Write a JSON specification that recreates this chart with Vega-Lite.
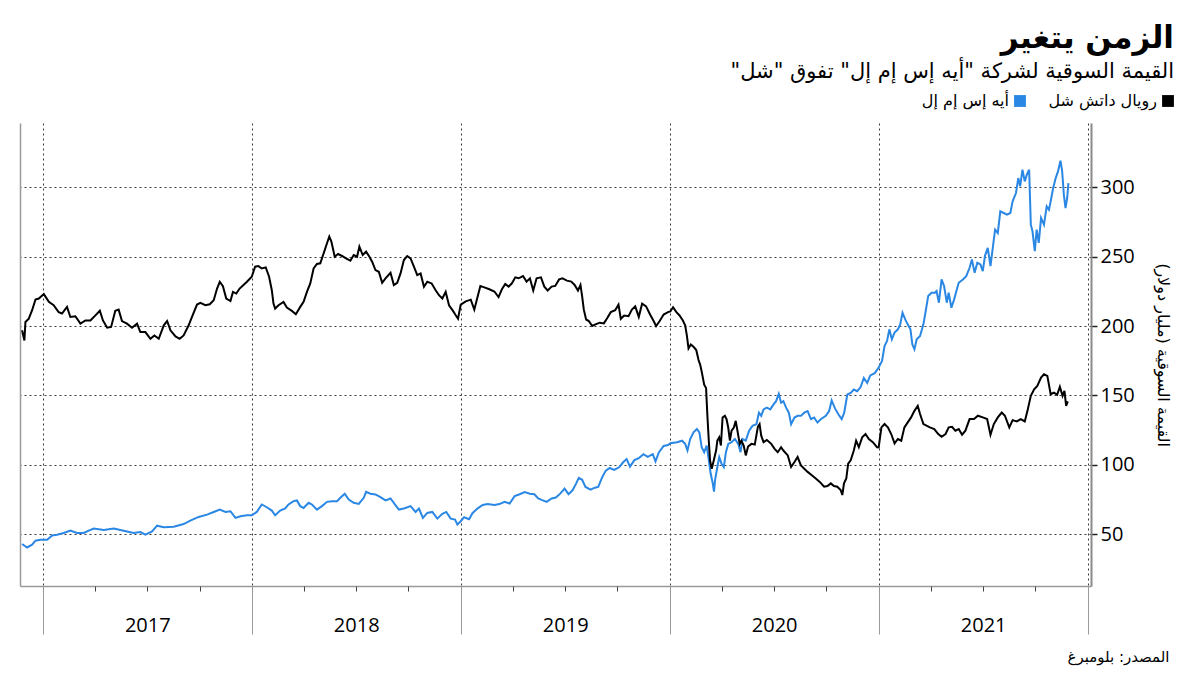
{
  "$schema": "https://vega.github.io/schema/vega-lite/v6.json",
  "width": 1071,
  "height": 463,
  "padding": {"left": 18, "top": 23, "right": 20, "bottom": 4},
  "background": "white",
  "config": {"view": {"stroke": null}, "font": "Open Sans"},
  "title": {
    "text": "\u200fالزمن يتغير\u200f",
    "subtitle": "\u200fالقيمة السوقية لشركة \"أيه إس إم إل\" تفوق \"شل\"\u200f",
    "anchor": "end",
    "frame": "bounds",
    "font": "DejaVu Sans",
    "fontSize": 31,
    "fontWeight": "bold",
    "color": "#000000",
    "subtitleFont": "DejaVu Sans",
    "subtitleFontSize": 21,
    "subtitleColor": "#000000",
    "subtitlePadding": 6,
    "offset": 10
  },
  "datasets": {
    "asml": [
      {"year":2016.901,"value":42.8},{"year":2016.925,"value":40.3},{"year":2016.949,"value":42.3},{"year":2016.965,"value":45.2},{"year":2016.989,"value":45.9},
      {"year":2017.021,"value":45.9},{"year":2017.045,"value":49},{"year":2017.068,"value":49.5},{"year":2017.1,"value":50.7},{"year":2017.132,"value":52.4},
      {"year":2017.164,"value":50.7},{"year":2017.196,"value":50.7},{"year":2017.22,"value":52.4},{"year":2017.244,"value":53.9},{"year":2017.292,"value":52.9},
      {"year":2017.34,"value":53.9},{"year":2017.387,"value":52.4},{"year":2017.435,"value":50.7},{"year":2017.467,"value":51.4},{"year":2017.491,"value":49.5},
      {"year":2017.523,"value":51.9},{"year":2017.547,"value":56},{"year":2017.579,"value":54.8},{"year":2017.627,"value":55.3},{"year":2017.674,"value":57.2},
      {"year":2017.706,"value":59.7},{"year":2017.746,"value":62.3},{"year":2017.786,"value":64},{"year":2017.818,"value":65.9},{"year":2017.847,"value":67.6},
      {"year":2017.874,"value":65.9},{"year":2017.898,"value":66.4},{"year":2017.922,"value":61.6},{"year":2017.946,"value":62.8},{"year":2017.977,"value":63.5},
      {"year":2018.0,"value":63.5},{"year":2018.024,"value":65.9},{"year":2018.048,"value":71.3},{"year":2018.072,"value":69.3},{"year":2018.096,"value":66.9},
      {"year":2018.112,"value":63.5},{"year":2018.136,"value":66.9},{"year":2018.16,"value":68.4},{"year":2018.176,"value":71.3},{"year":2018.2,"value":73.7},
      {"year":2018.216,"value":74.2},{"year":2018.232,"value":70.1},{"year":2018.248,"value":68.8},{"year":2018.272,"value":72.5},{"year":2018.288,"value":71.3},
      {"year":2018.312,"value":67.6},{"year":2018.336,"value":70.1},{"year":2018.36,"value":73.2},{"year":2018.384,"value":73.7},{"year":2018.408,"value":73.7},
      {"year":2018.424,"value":76.1},{"year":2018.445,"value":79},{"year":2018.464,"value":74.9},{"year":2018.488,"value":72.5},{"year":2018.512,"value":71.7},
      {"year":2018.536,"value":76.1},{"year":2018.547,"value":80.4},{"year":2018.568,"value":79},{"year":2018.592,"value":78.5},{"year":2018.616,"value":76.6},
      {"year":2018.64,"value":74.2},{"year":2018.664,"value":75.6},{"year":2018.685,"value":71.3},{"year":2018.704,"value":67.6},{"year":2018.728,"value":68.4},
      {"year":2018.76,"value":70.1},{"year":2018.784,"value":65.9},{"year":2018.8,"value":68.4},{"year":2018.819,"value":61.6},{"year":2018.84,"value":65.2},
      {"year":2018.864,"value":65.9},{"year":2018.888,"value":61.1},{"year":2018.912,"value":64.5},{"year":2018.931,"value":65.9},{"year":2018.952,"value":61.1},
      {"year":2018.973,"value":60.4},{"year":2018.984,"value":56.8},{"year":2019.0,"value":59.2},{"year":2019.016,"value":62.1},{"year":2019.04,"value":60.7},
      {"year":2019.056,"value":65},{"year":2019.081,"value":68.5},{"year":2019.105,"value":70.9},{"year":2019.129,"value":71.6},{"year":2019.161,"value":70.9},
      {"year":2019.185,"value":71.6},{"year":2019.21,"value":73.2},{"year":2019.234,"value":72},{"year":2019.258,"value":77.3},{"year":2019.282,"value":78.7},
      {"year":2019.306,"value":80.3},{"year":2019.331,"value":79.1},{"year":2019.352,"value":78.7},{"year":2019.371,"value":75.6},{"year":2019.39,"value":74.4},
      {"year":2019.411,"value":73.2},{"year":2019.435,"value":75.6},{"year":2019.455,"value":76.3},{"year":2019.476,"value":79.1},{"year":2019.497,"value":82.7},
      {"year":2019.516,"value":78.7},{"year":2019.535,"value":81.5},{"year":2019.552,"value":86.3},{"year":2019.565,"value":90.5},{"year":2019.581,"value":89.1},
      {"year":2019.597,"value":83.9},{"year":2019.621,"value":82},{"year":2019.642,"value":83.4},{"year":2019.658,"value":83.9},{"year":2019.677,"value":91},
      {"year":2019.694,"value":95.7},{"year":2019.713,"value":97.6},{"year":2019.734,"value":96.2},{"year":2019.758,"value":98.1},{"year":2019.777,"value":101.7},
      {"year":2019.794,"value":104},{"year":2019.81,"value":98.6},{"year":2019.831,"value":103.3},{"year":2019.852,"value":104.7},{"year":2019.874,"value":107.6},
      {"year":2019.895,"value":105.7},{"year":2019.919,"value":107.6},{"year":2019.932,"value":102.4},{"year":2019.948,"value":108.8},{"year":2019.971,"value":113.5},
      {"year":2019.992,"value":114.2},{"year":2020.003,"value":115.4},{"year":2020.035,"value":116.2},{"year":2020.059,"value":117.3},{"year":2020.074,"value":115},
      {"year":2020.085,"value":110.2},{"year":2020.098,"value":118.5},{"year":2020.114,"value":123.3},{"year":2020.13,"value":125.7},{"year":2020.142,"value":123.3},
      {"year":2020.153,"value":112.6},{"year":2020.165,"value":109},{"year":2020.177,"value":113.8},{"year":2020.185,"value":105.5},{"year":2020.196,"value":93.6},
      {"year":2020.206,"value":86.5},{"year":2020.212,"value":80.5},{"year":2020.217,"value":88.8},{"year":2020.228,"value":98.3},{"year":2020.237,"value":105.5},
      {"year":2020.248,"value":100.7},{"year":2020.259,"value":98.3},{"year":2020.269,"value":109},{"year":2020.28,"value":115},{"year":2020.296,"value":116.2},
      {"year":2020.312,"value":118.5},{"year":2020.328,"value":115},{"year":2020.339,"value":109},{"year":2020.348,"value":118.5},{"year":2020.364,"value":117.3},
      {"year":2020.38,"value":124.5},{"year":2020.396,"value":128},{"year":2020.415,"value":129.2},{"year":2020.427,"value":137.5},{"year":2020.438,"value":135.2},
      {"year":2020.449,"value":139.9},{"year":2020.465,"value":141.1},{"year":2020.481,"value":139.9},{"year":2020.497,"value":143.5},{"year":2020.509,"value":145.8},
      {"year":2020.522,"value":151.1},{"year":2020.533,"value":144.7},{"year":2020.544,"value":145.8},{"year":2020.557,"value":141.1},{"year":2020.57,"value":137.5},
      {"year":2020.581,"value":129.2},{"year":2020.597,"value":134},{"year":2020.612,"value":135.2},{"year":2020.628,"value":135.2},{"year":2020.644,"value":137.5},
      {"year":2020.66,"value":138.7},{"year":2020.676,"value":132.8},{"year":2020.691,"value":134},{"year":2020.707,"value":130.4},{"year":2020.723,"value":132.8},
      {"year":2020.747,"value":135.2},{"year":2020.763,"value":138.7},{"year":2020.775,"value":146.3},{"year":2020.791,"value":140.6},{"year":2020.807,"value":136.3},
      {"year":2020.823,"value":132.8},{"year":2020.835,"value":137.5},{"year":2020.85,"value":150.6},{"year":2020.866,"value":151.8},{"year":2020.881,"value":154.2},
      {"year":2020.897,"value":153},{"year":2020.913,"value":155.8},{"year":2020.929,"value":162.5},{"year":2020.945,"value":158.9},{"year":2020.96,"value":164.4},
      {"year":2020.981,"value":166},{"year":2021.0,"value":170},{"year":2021.016,"value":174.8},{"year":2021.028,"value":185.6},{"year":2021.04,"value":189.2},
      {"year":2021.051,"value":197.6},{"year":2021.063,"value":190.4},{"year":2021.076,"value":195.2},{"year":2021.092,"value":197.6},{"year":2021.103,"value":201.2},
      {"year":2021.114,"value":209.6},{"year":2021.127,"value":204.8},{"year":2021.139,"value":201.2},{"year":2021.152,"value":197.6},{"year":2021.161,"value":186.8},
      {"year":2021.171,"value":183.2},{"year":2021.182,"value":190.4},{"year":2021.198,"value":192.8},{"year":2021.214,"value":201.2},{"year":2021.225,"value":210.8},
      {"year":2021.237,"value":221.6},{"year":2021.253,"value":224},{"year":2021.269,"value":224},{"year":2021.277,"value":225.2},{"year":2021.288,"value":216.8},
      {"year":2021.301,"value":233.6},{"year":2021.313,"value":228.8},{"year":2021.326,"value":216.8},{"year":2021.335,"value":224},{"year":2021.348,"value":213.2},
      {"year":2021.361,"value":219.2},{"year":2021.372,"value":225.2},{"year":2021.383,"value":231.2},{"year":2021.403,"value":233.6},{"year":2021.419,"value":236},
      {"year":2021.435,"value":242},{"year":2021.446,"value":248},{"year":2021.459,"value":238.4},{"year":2021.472,"value":245.6},{"year":2021.487,"value":244.4},
      {"year":2021.498,"value":239.6},{"year":2021.509,"value":250.8},{"year":2021.522,"value":256.4},{"year":2021.535,"value":243.2},{"year":2021.546,"value":256.4},
      {"year":2021.557,"value":269.5},{"year":2021.57,"value":267.1},{"year":2021.582,"value":282.7},{"year":2021.598,"value":281.5},{"year":2021.614,"value":280.3},
      {"year":2021.63,"value":281.5},{"year":2021.641,"value":289.9},{"year":2021.657,"value":295.9},{"year":2021.668,"value":306.7},{"year":2021.677,"value":300.7},
      {"year":2021.688,"value":312.7},{"year":2021.699,"value":304.3},{"year":2021.709,"value":309.1},{"year":2021.72,"value":312.7},{"year":2021.728,"value":273.1},
      {"year":2021.736,"value":268.3},{"year":2021.747,"value":254},{"year":2021.756,"value":269.5},{"year":2021.766,"value":260},{"year":2021.777,"value":277.9},
      {"year":2021.791,"value":273.1},{"year":2021.804,"value":286.3},{"year":2021.815,"value":283.9},{"year":2021.826,"value":292.3},{"year":2021.835,"value":299.5},
      {"year":2021.847,"value":306.7},{"year":2021.858,"value":311.5},{"year":2021.87,"value":319.2},{"year":2021.878,"value":311.5},{"year":2021.886,"value":294.7},
      {"year":2021.894,"value":285.1},{"year":2021.902,"value":292.3},{"year":2021.908,"value":303.1}
    ],
    "shell": [
      {"year":2016.901,"value":196.9},{"year":2016.912,"value":189.6},{"year":2016.917,"value":202.9},{"year":2016.933,"value":205.3},{"year":2016.949,"value":211.4},
      {"year":2016.965,"value":219},{"year":2016.981,"value":219.8},{"year":2017.005,"value":223},{"year":2017.029,"value":217.4},{"year":2017.052,"value":215},
      {"year":2017.076,"value":210},{"year":2017.092,"value":209},{"year":2017.116,"value":213.8},{"year":2017.132,"value":206.5},{"year":2017.156,"value":207},
      {"year":2017.18,"value":201.7},{"year":2017.204,"value":204},{"year":2017.228,"value":204},{"year":2017.252,"value":207.7},{"year":2017.273,"value":211},
      {"year":2017.288,"value":204},{"year":2017.308,"value":198.8},{"year":2017.327,"value":199.3},{"year":2017.347,"value":211},{"year":2017.363,"value":211.8},
      {"year":2017.379,"value":203.6},{"year":2017.403,"value":201.7},{"year":2017.427,"value":198.8},{"year":2017.451,"value":201.7},{"year":2017.467,"value":195.6},
      {"year":2017.491,"value":195.6},{"year":2017.515,"value":190.8},{"year":2017.534,"value":193.2},{"year":2017.555,"value":190.8},{"year":2017.579,"value":200.5},
      {"year":2017.595,"value":203.6},{"year":2017.611,"value":196.9},{"year":2017.635,"value":192.5},{"year":2017.655,"value":190.8},{"year":2017.674,"value":193.2},
      {"year":2017.698,"value":200.5},{"year":2017.714,"value":206.5},{"year":2017.738,"value":215.5},{"year":2017.754,"value":216.7},{"year":2017.778,"value":215},
      {"year":2017.799,"value":215.7},{"year":2017.818,"value":218.6},{"year":2017.834,"value":227},{"year":2017.847,"value":231.9},{"year":2017.862,"value":228.7},
      {"year":2017.878,"value":219.8},{"year":2017.898,"value":218},{"year":2017.91,"value":224.6},{"year":2017.926,"value":223.4},{"year":2017.942,"value":227},
      {"year":2017.977,"value":231.9},{"year":2018.0,"value":235.5},{"year":2018.016,"value":242.8},{"year":2018.032,"value":243.2},{"year":2018.048,"value":241.5},
      {"year":2018.067,"value":242.3},{"year":2018.083,"value":235.5},{"year":2018.096,"value":225.8},{"year":2018.104,"value":216.2},{"year":2018.112,"value":212.6},
      {"year":2018.128,"value":215},{"year":2018.152,"value":217.4},{"year":2018.168,"value":213.3},{"year":2018.192,"value":210.9},{"year":2018.211,"value":208.5},
      {"year":2018.232,"value":213.8},{"year":2018.248,"value":217.4},{"year":2018.264,"value":224.6},{"year":2018.28,"value":230.7},{"year":2018.296,"value":241.5},
      {"year":2018.312,"value":244.7},{"year":2018.328,"value":245.2},{"year":2018.344,"value":252.4},{"year":2018.36,"value":259.7},{"year":2018.371,"value":264.5},
      {"year":2018.381,"value":260.9},{"year":2018.397,"value":250},{"year":2018.413,"value":251.9},{"year":2018.432,"value":250.5},{"year":2018.451,"value":248.8},
      {"year":2018.472,"value":247.1},{"year":2018.488,"value":251.2},{"year":2018.504,"value":250},{"year":2018.515,"value":257.2},{"year":2018.531,"value":251.2},
      {"year":2018.547,"value":253.6},{"year":2018.563,"value":250},{"year":2018.576,"value":246.4},{"year":2018.592,"value":240.3},{"year":2018.608,"value":239.1},
      {"year":2018.624,"value":231.2},{"year":2018.64,"value":234.3},{"year":2018.664,"value":238.4},{"year":2018.68,"value":229.5},{"year":2018.696,"value":231.2},
      {"year":2018.712,"value":237.9},{"year":2018.728,"value":247.6},{"year":2018.744,"value":250.5},{"year":2018.76,"value":248.8},{"year":2018.776,"value":242.8},
      {"year":2018.792,"value":236.7},{"year":2018.808,"value":237.9},{"year":2018.824,"value":228.3},{"year":2018.84,"value":231.9},{"year":2018.861,"value":230.7},
      {"year":2018.88,"value":225.8},{"year":2018.896,"value":222.2},{"year":2018.912,"value":219.8},{"year":2018.928,"value":224.6},{"year":2018.944,"value":215},
      {"year":2018.963,"value":210.9},{"year":2018.976,"value":207.7},{"year":2018.987,"value":205.3},{"year":2019.0,"value":215.4},{"year":2019.024,"value":217.8},
      {"year":2019.048,"value":219},{"year":2019.065,"value":211.8},{"year":2019.081,"value":221.3},{"year":2019.094,"value":228.9},{"year":2019.113,"value":227.9},
      {"year":2019.137,"value":226.5},{"year":2019.161,"value":224.9},{"year":2019.181,"value":220.9},{"year":2019.197,"value":226.5},{"year":2019.213,"value":230.3},
      {"year":2019.229,"value":228.4},{"year":2019.245,"value":230.8},{"year":2019.261,"value":235.1},{"year":2019.277,"value":234.4},{"year":2019.298,"value":236},
      {"year":2019.315,"value":232},{"year":2019.331,"value":234.4},{"year":2019.347,"value":225.6},{"year":2019.363,"value":234.4},{"year":2019.384,"value":235.1},
      {"year":2019.4,"value":228.4},{"year":2019.416,"value":225.6},{"year":2019.435,"value":228.4},{"year":2019.452,"value":228.9},{"year":2019.471,"value":233.6},
      {"year":2019.487,"value":234.4},{"year":2019.508,"value":232.7},{"year":2019.529,"value":232},{"year":2019.545,"value":229.6},{"year":2019.561,"value":225.6},
      {"year":2019.573,"value":229.6},{"year":2019.581,"value":221.3},{"year":2019.589,"value":211.8},{"year":2019.6,"value":204.7},{"year":2019.613,"value":203.6},
      {"year":2019.629,"value":200},{"year":2019.645,"value":201.2},{"year":2019.665,"value":202.4},{"year":2019.685,"value":201.9},{"year":2019.702,"value":205.9},
      {"year":2019.718,"value":210},{"year":2019.739,"value":211.4},{"year":2019.755,"value":215.4},{"year":2019.766,"value":205.2},{"year":2019.782,"value":207.6},
      {"year":2019.803,"value":207.1},{"year":2019.819,"value":211.8},{"year":2019.835,"value":214.2},{"year":2019.852,"value":206.6},{"year":2019.868,"value":216.1},
      {"year":2019.887,"value":214.2},{"year":2019.906,"value":208.3},{"year":2019.923,"value":203.6},{"year":2019.935,"value":200},{"year":2019.952,"value":203.6},
      {"year":2019.971,"value":208.3},{"year":2019.992,"value":210},{"year":2020.003,"value":210.5},{"year":2020.016,"value":213.5},{"year":2020.032,"value":210},
      {"year":2020.047,"value":207.6},{"year":2020.063,"value":204},{"year":2020.074,"value":200.5},{"year":2020.082,"value":193.3},{"year":2020.09,"value":183.8},
      {"year":2020.101,"value":186.7},{"year":2020.114,"value":185},{"year":2020.127,"value":182.7},{"year":2020.138,"value":175.5},{"year":2020.146,"value":172},
      {"year":2020.153,"value":167.2},{"year":2020.165,"value":157.7},{"year":2020.174,"value":155.3},{"year":2020.18,"value":136.3},{"year":2020.187,"value":117.3},
      {"year":2020.193,"value":103.1},{"year":2020.201,"value":97.1},{"year":2020.209,"value":101.9},{"year":2020.222,"value":110.2},{"year":2020.228,"value":117.3},
      {"year":2020.237,"value":119.7},{"year":2020.245,"value":113.8},{"year":2020.253,"value":134},{"year":2020.264,"value":135.2},{"year":2020.272,"value":132.8},
      {"year":2020.28,"value":126.8},{"year":2020.288,"value":117.3},{"year":2020.296,"value":124.5},{"year":2020.307,"value":126.8},{"year":2020.316,"value":131.6},
      {"year":2020.324,"value":124.5},{"year":2020.335,"value":115},{"year":2020.343,"value":117.3},{"year":2020.354,"value":113.8},{"year":2020.364,"value":106.7},
      {"year":2020.375,"value":113.1},{"year":2020.391,"value":115},{"year":2020.407,"value":114.5},{"year":2020.422,"value":127.3},{"year":2020.43,"value":129.2},
      {"year":2020.438,"value":120.9},{"year":2020.449,"value":116.2},{"year":2020.465,"value":117.8},{"year":2020.486,"value":115},{"year":2020.502,"value":111.4},
      {"year":2020.517,"value":109},{"year":2020.533,"value":112.6},{"year":2020.544,"value":110.2},{"year":2020.565,"value":106.7},{"year":2020.581,"value":98.3},
      {"year":2020.597,"value":101.9},{"year":2020.612,"value":105.5},{"year":2020.628,"value":99.5},{"year":2020.644,"value":97.1},{"year":2020.66,"value":94.8},
      {"year":2020.68,"value":92.4},{"year":2020.699,"value":90},{"year":2020.718,"value":87.6},{"year":2020.739,"value":84.1},{"year":2020.755,"value":84.6},
      {"year":2020.771,"value":86.5},{"year":2020.786,"value":84.6},{"year":2020.802,"value":84.1},{"year":2020.818,"value":81.7},{"year":2020.826,"value":78.1},
      {"year":2020.834,"value":86.5},{"year":2020.845,"value":90},{"year":2020.854,"value":100.7},{"year":2020.866,"value":103.1},{"year":2020.881,"value":110.2},
      {"year":2020.892,"value":117.3},{"year":2020.905,"value":112.6},{"year":2020.921,"value":119.7},{"year":2020.937,"value":122.1},{"year":2020.953,"value":118.5},
      {"year":2020.972,"value":116.2},{"year":2020.992,"value":112.6},{"year":2021.0,"value":112.5},{"year":2021.013,"value":126.9},{"year":2021.028,"value":129.3},
      {"year":2021.044,"value":126.9},{"year":2021.06,"value":122.1},{"year":2021.076,"value":115.3},{"year":2021.092,"value":118.5},{"year":2021.108,"value":117.3},
      {"year":2021.123,"value":126.9},{"year":2021.139,"value":130.5},{"year":2021.155,"value":134.1},{"year":2021.171,"value":138.8},{"year":2021.187,"value":142.4},
      {"year":2021.198,"value":136.5},{"year":2021.214,"value":129.3},{"year":2021.229,"value":128.1},{"year":2021.245,"value":126.9},{"year":2021.266,"value":125.7},
      {"year":2021.285,"value":122.1},{"year":2021.301,"value":120.1},{"year":2021.32,"value":122.1},{"year":2021.335,"value":126.9},{"year":2021.351,"value":127.3},
      {"year":2021.367,"value":124.5},{"year":2021.383,"value":125.7},{"year":2021.399,"value":121.6},{"year":2021.415,"value":124.5},{"year":2021.435,"value":132.9},
      {"year":2021.456,"value":132.9},{"year":2021.475,"value":135.3},{"year":2021.498,"value":134.1},{"year":2021.519,"value":132.9},{"year":2021.535,"value":121.6},
      {"year":2021.551,"value":129.3},{"year":2021.57,"value":134.1},{"year":2021.589,"value":137.6},{"year":2021.604,"value":135.3},{"year":2021.625,"value":126.9},
      {"year":2021.641,"value":132.1},{"year":2021.661,"value":131.2},{"year":2021.68,"value":132.9},{"year":2021.699,"value":131.2},{"year":2021.712,"value":138.8},
      {"year":2021.728,"value":149.6},{"year":2021.744,"value":154.4},{"year":2021.759,"value":156.8},{"year":2021.777,"value":162.8},{"year":2021.791,"value":165.2},
      {"year":2021.807,"value":164},{"year":2021.823,"value":150.8},{"year":2021.839,"value":152},{"year":2021.854,"value":150.4},{"year":2021.867,"value":156.1},
      {"year":2021.88,"value":149.6},{"year":2021.889,"value":153.2},{"year":2021.897,"value":142.4},{"year":2021.905,"value":145.6}
    ]
  },
  "layer": [
    {
      "data": {"name": "asml"},
      "mark": {"type": "line", "strokeWidth": 2, "interpolate": "linear"},
      "encoding": {
        "x": {
          "field": "year", "type": "quantitative",
          "scale": {"domain": [2016.891, 2022.016], "nice": false, "zero": false},
          "axis": {
            "orient": "bottom",
            "values": [2017, 2018, 2019, 2020, 2021, 2022],
            "labels": false,
            "ticks": true, "tickSize": 48, "tickColor": "#9a9a9a", "tickWidth": 1,
            "domain": true, "domainColor": "#9a9a9a", "domainWidth": 1.5,
            "grid": true, "gridColor": "#3a3a3a", "gridDash": [2, 3], "gridWidth": 1,
            "title": null
          }
        },
        "y": {
          "field": "value", "type": "quantitative",
          "scale": {"domain": [12.5, 346.4], "nice": false, "zero": false},
          "axis": {
            "orient": "right",
            "values": [50, 100, 150, 200, 250, 300],
            "grid": true, "gridColor": "#3a3a3a", "gridDash": [2, 3], "gridWidth": 1,
            "domain": true, "domainColor": "#8a8a8a", "domainWidth": 2,
            "ticks": true, "tickSize": 6, "tickColor": "#222222", "tickWidth": 1.5,
            "labelFont": "Open Sans", "labelFontSize": 20, "labelColor": "#000000", "labelPadding": 3,
            "title": "\u200fالقيمة السوقية (مليار دولار)\u200f",
            "titleFont": "DejaVu Sans", "titleFontSize": 16, "titleFontWeight": "normal",
            "titleColor": "#000000", "titleAngle": 90, "titlePadding": 20
          }
        },
        "color": {
          "datum": "أيه إس إم إل",
          "type": "nominal",
          "scale": {"domain": ["أيه إس إم إل", "رويال داتش شل"], "range": ["#2a87e4", "#000000"]},
          "legend": {
            "orient": "none", "legendX": 992, "legendY": -30,
            "direction": "horizontal", "title": null,
            "symbolType": "square", "symbolSize": 140, "symbolStrokeWidth": 0,
            "labelFont": "DejaVu Sans", "labelFontSize": 16, "labelColor": "#000000",
            "labelAlign": "right", "labelOffset": -19, "columnPadding": 22,
            "encode": {"symbols": {"update": {"fill": {"scale": "color", "field": "value"}, "strokeWidth": {"value": 0}}}}
          }
        }
      }
    },
    {
      "data": {"name": "shell"},
      "mark": {"type": "line", "strokeWidth": 2, "interpolate": "linear"},
      "encoding": {
        "x": {
          "field": "year", "type": "quantitative",
          "scale": {"domain": [2016.891, 2022.016], "nice": false, "zero": false},
          "axis": {
            "orient": "bottom",
            "values": [2017.25, 2017.5, 2017.75, 2018.25, 2018.5, 2018.75, 2019.25, 2019.5, 2019.75, 2020.25, 2020.5, 2020.75, 2021.25, 2021.5, 2021.75],
            "labelExpr": "datum.value % 1 == 0.5 ? '' + floor(datum.value) : ''",
            "labelFont": "Open Sans", "labelFontSize": 20, "labelColor": "#000000", "labelPadding": 24,
            "ticks": true, "tickSize": 5, "tickColor": "#444444", "tickWidth": 1,
            "domain": false, "grid": false,
            "title": "\u200fالمصدر: بلومبرغ\u200f",
            "titleFont": "DejaVu Sans", "titleFontSize": 15, "titleFontWeight": "normal", "titleColor": "#000000",
            "titleAnchor": "end", "titleAlign": "right", "titleBaseline": "alphabetic",
            "titleX": 1149, "titleY": 75
          }
        },
        "y": {
          "field": "value", "type": "quantitative",
          "scale": {"domain": [12.5, 346.4], "nice": false, "zero": false},
          "axis": {
            "orient": "left",
            "labels": false, "ticks": false, "grid": false,
            "domain": true, "domainColor": "#9a9a9a", "domainWidth": 1.5,
            "title": null
          }
        },
        "color": {"datum": "رويال داتش شل", "type": "nominal"}
      }
    }
  ],
  "resolve": {"axis": {"x": "independent", "y": "independent"}}
}
